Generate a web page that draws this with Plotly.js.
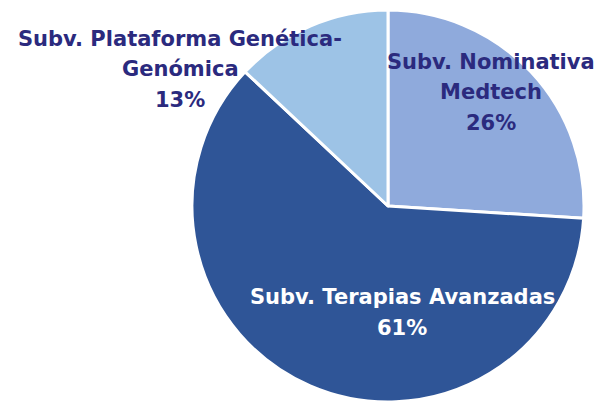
<!DOCTYPE html>
<html><head><meta charset="utf-8">
<script src="https://cdn.plot.ly/plotly-3.0.1.min.js"></script>
<style>html,body{margin:0;padding:0;background:#fff}#chart{width:594px;height:402px}</style>
</head><body><div id="chart"></div>
<script>
const categories = ["Subv. Nominativa Medtech", "Subv. Terapias Avanzadas", "Subv. Plataforma Genética-Genómica"];
const values = [26, 61, 13];
const labelLines = [["Subv. Nominativa", "Medtech", "26%"], ["Subv. Terapias Avanzadas", "61%"], ["Subv. Plataforma Genética-", "Genómica", "13%"]];
const colors = ["#8FAADC", "#2F5597", "#9DC3E6"];
const labelColors = ["#2B2A7E", "#FFFFFF", "#2B2A7E"];
// label block placement (paper px): center x, first line center y
const labelPos = [[491, 62], [402, 297], [180, 39]];
const lineGap = 30.5;
const W = 594, H = 402;
const annotations = [];
labelLines.forEach((lines, i) => {
  lines.forEach((t, j) => {
    annotations.push({
      text: "<b>" + t + "</b>", showarrow: false, xref: "paper", yref: "paper",
      x: labelPos[i][0] / W, y: 1 - (labelPos[i][1] + j * lineGap) / H,
      xanchor: "center", yanchor: "middle",
      font: {family: "DejaVu Sans", size: 21, color: labelColors[i]}
    });
  });
});
const data = [{
  type: "pie", labels: categories, values: values, sort: false, direction: "clockwise", rotation: 0,
  marker: {colors: colors, line: {color: "#FFFFFF", width: 3}},
  textinfo: "none", hoverinfo: "label+percent", showlegend: false,
  domain: {x: [(388 - 197) / W, (388 + 197) / W], y: [(H - 207 - 197) / H, (H - 207 + 197) / H]}
}];
const layout = {width: W, height: H, margin: {l: 0, r: 0, t: 0, b: 0}, paper_bgcolor: "#fff", annotations: annotations, showlegend: false};
Plotly.newPlot("chart", data, layout, {displayModeBar: false, staticPlot: true});
</script></body></html>
